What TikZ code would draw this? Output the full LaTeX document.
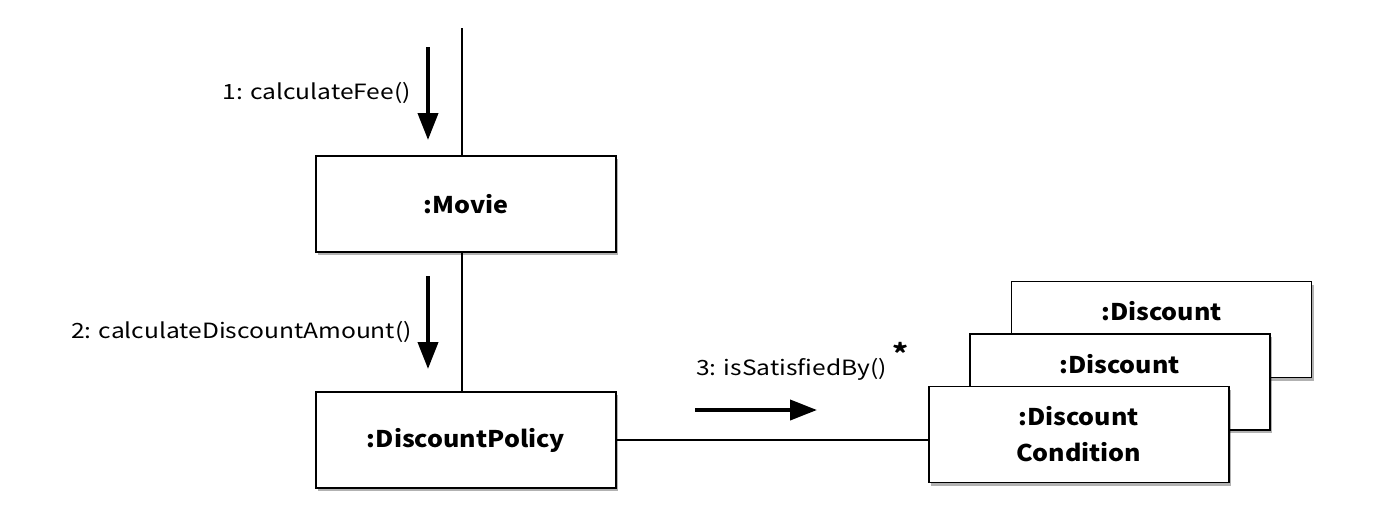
\documentclass[tikz,border=0pt]{standalone}
\usepackage{fontspec}
\setmainfont{Noto Sans CJK KR}
\newfontfamily\msgfont[FakeStretch=1.17]{Noto Sans CJK KR}
\newfontfamily\objfont[FakeStretch=1.09]{Noto Sans CJK KR}
\usetikzlibrary{arrows.meta,shadows}
\begin{document}
\begin{tikzpicture}[x=1pt,y=-1pt,
  obj/.style={draw, line width=1.8pt, fill=white, minimum width=300pt, minimum height=96pt,
    inner sep=0pt, font=\objfont\fontsize{23}{36}\selectfont\bfseries, align=center,
    drop shadow={shadow xshift=2pt, shadow yshift=-3pt, opacity=0.3, fill=black}},
  msg/.style={font=\msgfont\fontsize{21}{25}\selectfont, inner sep=0pt},
  call/.style={line width=4pt, -{Triangle[length=27pt,width=20pt]}},
  link/.style={line width=1.8pt}]
\useasboundingbox (0,0) rectangle (1382,512);
\fill[white] (0,0) rectangle (1382,512);

% objects
\node[obj] (movie) at (466,204) {:Movie};
\node[obj] (policy) at (466,440) {:DiscountPolicy};
\node[obj] (d3) at (1161.5,329.5) {:Discount\\\phantom{Condition}};
\node[obj] (d2) at (1119.7,382) {:Discount\\\phantom{Condition}};
\node[obj] (d1) at (1078.7,434.5) {:Discount\\Condition};

% links
\coordinate (top) at (462,28);
\draw[link] (top) -- (top |- movie.north);
\draw[link] (movie.south -| top) -- (policy.north -| top);
\draw[link] (policy.east) -- (policy.east -| d1.west);

% messages
\coordinate (a1s) at (428,47);
\coordinate (a1e) at (428,140);
\draw[call] (a1s) -- (a1e);
\node[msg, anchor=base east] (l1) at (411,99) {1: calculateFee()};

\coordinate (a2s) at (428,276);
\coordinate (a2e) at (428,369);
\draw[call] (a2s) -- (a2e);
\node[msg, anchor=base east] (l2) at (412,338) {2: calculateDiscountAmount()};

\coordinate (a3s) at (695,410);
\coordinate (a3e) at (817,410);
\draw[call] (a3s) -- (a3e);
\node[msg, anchor=base west] (l3) at (696,375)
  {3: isSatisfiedBy()\hspace{6pt}\raisebox{0.55em}{\fontsize{26}{26}\selectfont\bfseries *}};
\end{tikzpicture}
\end{document}
